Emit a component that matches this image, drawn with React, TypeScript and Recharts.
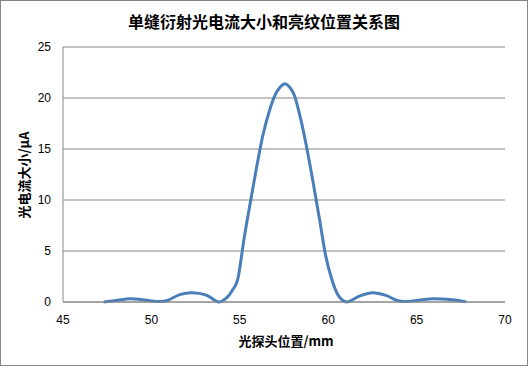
import React from "react";
import { LineChart, Line, XAxis, YAxis, CartesianGrid } from "recharts";

const title = "单缝衍射光电流大小和亮纹位置关系图";
const xLabel = "光探头位置/mm";
const yLabel = "光电流大小/μA";

const positions = [
  47.3, 48.0, 48.8, 49.5, 50.35, 50.9, 51.6, 52.3, 53.1, 53.8, 54.25, 54.6, 54.9,
  55.25, 55.6, 55.95, 56.3, 56.65, 57.0, 57.3, 57.55, 57.8, 58.1, 58.45, 58.8,
  59.15, 59.5, 59.85, 60.18, 60.55, 61.05, 61.8, 62.55, 63.3, 63.8, 64.3, 65.2,
  65.95, 67.0, 67.8,
];
const currents = [
  0.0, 0.15, 0.32, 0.22, 0.05, 0.15, 0.72, 0.9, 0.68, 0.0, 0.4, 1.2, 2.35,
  6.3, 9.8, 13.2, 16.3, 18.6, 20.3, 21.1, 21.4, 21.1, 20.2, 17.9, 15.0,
  11.7, 8.2, 4.6, 2.35, 0.7, 0.0, 0.6, 0.9, 0.62, 0.22, 0.04, 0.2,
  0.32, 0.22, 0.02,
];

const xTicks = [45, 50, 55, 60, 65, 70];
const yTicks = [0, 5, 10, 15, 20, 25];

const data = positions.map((x, i) => ({ x, y: currents[i] }));

const tickStyle = { fill: "#000", fontSize: 12, fontFamily: "Liberation Sans, Arial, sans-serif" };

// Excel-like smoothed line (Catmull-Rom style Bezier)
function smoothCurve(context: any) {
  let pts: number[][] = [];
  return {
    areaStart() {},
    areaEnd() {},
    lineStart() {
      pts = [];
    },
    lineEnd() {
      if (!pts.length) return;
      context.moveTo(pts[0][0], pts[0][1]);
      for (let i = 0; i < pts.length - 1; i++) {
        const p0 = pts[i - 1] || pts[i];
        const p1 = pts[i];
        const p2 = pts[i + 1];
        const p3 = pts[i + 2] || p2;
        context.bezierCurveTo(
          p1[0] + (p2[0] - p0[0]) / 6,
          p1[1] + (p2[1] - p0[1]) / 6,
          p2[0] - (p3[0] - p1[0]) / 6,
          p2[1] - (p3[1] - p1[1]) / 6,
          p2[0],
          p2[1]
        );
      }
    },
    point(x: number, y: number) {
      pts.push([+x, +y]);
    },
  };
}

export default function App() {
  return (
    <div
      style={{
        position: "fixed",
        left: 0,
        top: 0,
        width: 528,
        height: 366,
        boxSizing: "border-box",
        border: "1px solid #868686",
        background: "#fff",
      }}
    >
      <div
        style={{
          position: "absolute",
          left: 0,
          top: 8,
          width: 526,
          textAlign: "center",
          fontFamily: "Noto Sans CJK SC, sans-serif",
          fontWeight: "bold",
          fontSize: 16,
          lineHeight: "24px",
          color: "#000",
        }}
      >
        {title}
      </div>
      <div
        style={{
          position: "absolute",
          left: 0,
          top: 330,
          width: 570,
          textAlign: "center",
          fontFamily: "Noto Sans CJK SC, sans-serif",
          fontWeight: "bold",
          fontSize: 13,
          lineHeight: "20px",
          color: "#000",
        }}
      >
        {xLabel}
      </div>
      <div
        style={{
          position: "absolute",
          left: 23 - 60,
          top: 174 - 10,
          width: 120,
          height: 20,
          transform: "rotate(-90deg)",
          textAlign: "center",
          fontFamily: "Noto Sans CJK SC, sans-serif",
          fontWeight: "bold",
          fontSize: 13,
          lineHeight: "20px",
          color: "#000",
        }}
      >
        {yLabel}
      </div>
      <div style={{ position: "absolute", left: -1, top: -1 }}>
        <LineChart
          width={528}
          height={366}
          data={data}
          margin={{ top: 47, right: 23, bottom: 34, left: 0 }}
        >
          <CartesianGrid vertical={false} stroke="#868686" />
          <XAxis
            dataKey="x"
            type="number"
            domain={[45, 70]}
            ticks={xTicks}
            height={30}
            tickLine={false}
            tickSize={0}
            tickMargin={13}
            stroke="#868686"
            tick={tickStyle}
            allowDataOverflow
          />
          <YAxis
            type="number"
            domain={[0, 25]}
            ticks={yTicks}
            width={63}
            tickLine={false}
            tickSize={0}
            tickMargin={12}
            stroke="#868686"
            tick={tickStyle}
          />
          <Line
            type={smoothCurve as any}
            dataKey="y"
            stroke="#4a7ebb"
            strokeWidth={3}
            dot={false}
            isAnimationActive={false}
          />
        </LineChart>
      </div>
    </div>
  );
}
